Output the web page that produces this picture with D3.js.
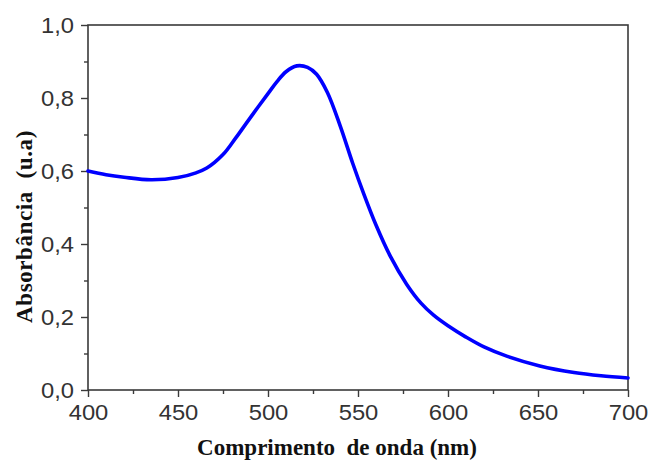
<!DOCTYPE html>
<html>
<head>
<meta charset="utf-8">
<script src="https://cdn.jsdelivr.net/npm/d3@7"></script>
<style>
  body { margin: 0; background: #fff; }
  svg { display: block; }
</style>
</head>
<body>
<div id="chart"></div>
<script>
// spectrum
const wavelength = [400, 410, 420, 435, 450, 460, 466, 475, 482, 490, 500, 505, 510, 516, 522, 527, 533, 540, 547, 553, 560, 568, 577, 585, 592, 600, 610, 620, 633, 651, 670, 685, 700]
const absorbance = [0.600, 0.590, 0.583, 0.576, 0.582, 0.595, 0.608, 0.645, 0.690, 0.745, 0.812, 0.845, 0.872, 0.888, 0.884, 0.865, 0.815, 0.725, 0.622, 0.540, 0.452, 0.366, 0.290, 0.238, 0.205, 0.176, 0.145, 0.118, 0.092, 0.066, 0.048, 0.039, 0.033]

const xTicks = [400, 450, 500, 550, 600, 650, 700]
const xMinor = [425, 475, 525, 575, 625, 675]
const yTicks = [0, 0.2, 0.4, 0.6, 0.8, 1.0]
const yMinor = [0.1, 0.3, 0.5, 0.7, 0.9]

const xTitle = "Comprimento\u00a0 de onda (nm)"
const yTitle = "Absorbância\u00a0 (u.a)"

const width = 651
const height = 461
const margin = { top: 25, right: 23, bottom: 71, left: 88 }

const svg = d3.select("#chart").append("svg")
    .attr("width", width)
    .attr("height", height)

const x = d3.scaleLinear().domain([400, 700]).range([margin.left, width - margin.right])
const y = d3.scaleLinear().domain([0, 1]).range([height - margin.bottom, margin.top])

const fmt = d3.format(".1f")
const axisColor = "#3a3a3a"

// frame
svg.append("rect")
    .attr("x", x(400))
    .attr("y", y(1))
    .attr("width", x(700) - x(400))
    .attr("height", y(0) - y(1))
    .attr("fill", "none")
    .attr("stroke", axisColor)
    .attr("stroke-width", 1.6)

function styleAxis (g) {
  g.select(".domain").remove()
  g.selectAll("line").attr("stroke", axisColor).attr("stroke-width", 1.4)
  g.selectAll("text")
    .attr("fill", "#333")
    .style("font-family", "Liberation Sans, Arial, sans-serif")
    .style("font-size", "22px")
}

svg.append("g")
    .attr("transform", `translate(0,${y(0)})`)
    .call(d3.axisBottom(x).tickValues(xMinor).tickSize(4).tickFormat(""))
    .call(styleAxis)

svg.append("g")
    .attr("transform", `translate(0,${y(0)})`)
    .call(d3.axisBottom(x).tickValues(xTicks).tickSize(7).tickPadding(7).tickFormat(d3.format("d")))
    .call(styleAxis)
    .selectAll("text").attr("transform", "scale(1.08,1)")

svg.append("g")
    .attr("transform", `translate(${x(400)},0)`)
    .call(d3.axisLeft(y).tickValues(yMinor).tickSize(4).tickFormat(""))
    .call(styleAxis)

svg.append("g")
    .attr("transform", `translate(${x(400)},0)`)
    .call(d3.axisLeft(y).tickValues(yTicks).tickSize(7).tickPadding(6).tickFormat(d => fmt(d).replace(".", ",")))
    .call(styleAxis)
    .selectAll("text").attr("transform", "scale(1.08,1)")

// spectrum line
const line = d3.line()
    .x((d, i) => x(wavelength[i]))
    .y(d => y(d))
    .curve(d3.curveCatmullRom)

svg.append("path")
    .datum(absorbance)
    .attr("d", line)
    .attr("fill", "none")
    .attr("stroke", "#0000ff")
    .attr("stroke-width", 3.6)
    .attr("stroke-linejoin", "round")
    .attr("stroke-linecap", "round")

// axis titles
svg.append("text")
    .attr("x", 337)
    .attr("y", 455)
    .attr("text-anchor", "middle")
    .style("font-family", "Liberation Serif, Times New Roman, serif")
    .style("font-weight", "bold")
    .style("font-size", "23px")
    .attr("fill", "#111")
    .text(xTitle)

svg.append("text")
    .attr("transform", `translate(32,${(y(0) + y(1)) / 2 + 19}) rotate(-90)`)
    .attr("text-anchor", "middle")
    .style("font-family", "Liberation Serif, Times New Roman, serif")
    .style("font-weight", "bold")
    .style("font-size", "23px")
    .style("letter-spacing", "0.6px")
    .attr("fill", "#111")
    .text(yTitle)
</script>
</body>
</html>
